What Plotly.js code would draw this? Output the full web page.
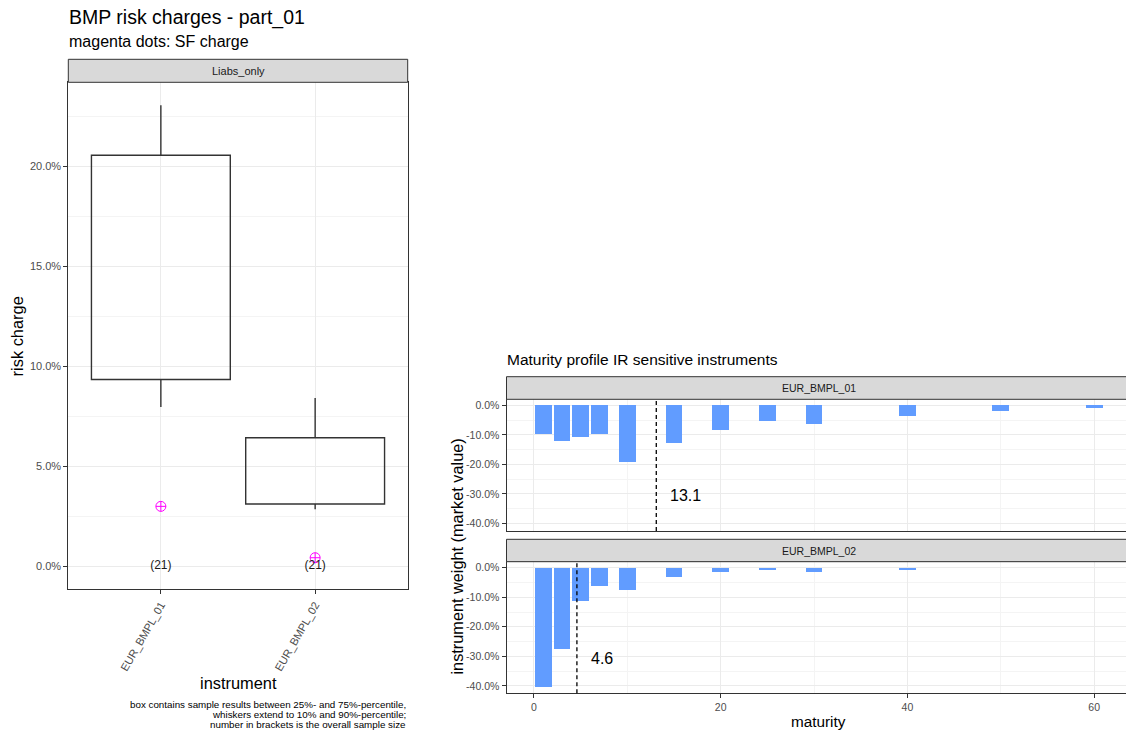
<!DOCTYPE html>
<html>
<head>
<meta charset="utf-8">
<script src="https://cdn.plot.ly/plotly-3.0.1.min.js"></script>
<style>
  html, body { margin: 0; padding: 0; overflow: hidden; background: #ffffff; }
  #chart { width: 1132px; height: 731px; }
</style>
</head>
<body>
<div id="chart"></div>
<script>
// ---------------- data ----------------
// left panel: risk charges per instrument (fractions)
var instruments = ['EUR_BMPL_01', 'EUR_BMPL_02'];
var q10 = [0.0797, 0.0285];   // lower whisker (10%-percentile)
var q25 = [0.0935, 0.0312];   // box bottom (25%-percentile)
var q75 = [0.2057, 0.0643];   // box top (75%-percentile)
var q90 = [0.2307, 0.0842];   // upper whisker (90%-percentile)
var sfCharge = [0.0300, 0.0043];
var sampleSize = [21, 21];
var riskTickVals = [0, 0.05, 0.10, 0.15, 0.20];
var riskTickText = ['0.0%', '5.0%', '10.0%', '15.0%', '20.0%'];

// right panels: maturity profile
var maturities = [1, 3, 5, 7, 10, 15, 20, 25, 30, 40, 50, 60];
var weightsBMPL01 = [-0.098, -0.121, -0.107, -0.098, -0.193, -0.128, -0.082, -0.054, -0.064, -0.036, -0.018, -0.008];
var weightsBMPL02 = [-0.405, -0.274, -0.112, -0.062, -0.075, -0.031, -0.014, -0.007, -0.014, -0.007, 0, 0];
var meanMaturity = [13.1, 4.6];
var weightTickVals = [0, -0.1, -0.2, -0.3, -0.4];
var weightTickText = ['0.0%', '-10.0%', '-20.0%', '-30.0%', '-40.0%'];
var maturityTickVals = [0, 20, 40, 60];
var maturityTickText = ['0', '20', '40', '60'];
var panelNames = ['EUR_BMPL_01', 'EUR_BMPL_02'];

// ---------------- layout helpers ----------------
var W = 1132, H = 731;
function fx(px) { return px / W; }
function fy(py) { return 1 - py / H; }

var FONT = 'Liberation Sans, Arial, sans-serif';
var BORDER = '#333333';
var GRID = '#EBEBEB';
var MINOR = '#F4F4F4';
var TICKCOL = '#4D4D4D';

// ---------------- traces ----------------
var traces = [];

// whiskers
var wx = [], wy = [];
for (var i = 0; i < instruments.length; i++) {
  wx.push(instruments[i], instruments[i], null, instruments[i], instruments[i], null);
  wy.push(q75[i], q90[i], null, q25[i], q10[i], null);
}
traces.push({
  type: 'scatter', mode: 'lines', x: wx, y: wy, xaxis: 'x', yaxis: 'y',
  line: { color: BORDER, width: 1.4 }, hoverinfo: 'skip', showlegend: false
});

// boxes (25%..75%)
traces.push({
  type: 'bar', x: instruments,
  base: q25,
  y: q75.map(function (v, k) { return v - q25[k]; }),
  width: 0.9, xaxis: 'x', yaxis: 'y',
  marker: { color: 'rgba(255,255,255,0)', line: { color: BORDER, width: 1.4 } },
  showlegend: false, hoverinfo: 'skip'
});

// SF charge dots
traces.push({
  type: 'scatter', mode: 'markers', x: instruments, y: sfCharge, xaxis: 'x', yaxis: 'y',
  marker: { symbol: 'circle-cross-open', size: 10, color: '#FF00FF', line: { width: 1, color: '#FF00FF' } },
  showlegend: false
});

// sample size labels
traces.push({
  type: 'scatter', mode: 'text', x: instruments, y: instruments.map(function () { return 0; }),
  text: sampleSize.map(function (n) { return '(' + n + ')'; }),
  textposition: 'middle center', textfont: { family: FONT, size: 12, color: '#1a1a1a' },
  xaxis: 'x', yaxis: 'y', showlegend: false, hoverinfo: 'skip'
});

// maturity bars
traces.push({
  type: 'bar', x: maturities, y: weightsBMPL01, width: 1.8, xaxis: 'x2', yaxis: 'y2',
  marker: { color: '#619CFF' }, showlegend: false
});
traces.push({
  type: 'bar', x: maturities, y: weightsBMPL02, width: 1.8, xaxis: 'x3', yaxis: 'y3',
  marker: { color: '#619CFF' }, showlegend: false
});

// ---------------- axes ----------------
function baseAxis(extra) {
  var a = {
    showline: true, mirror: true, linecolor: BORDER, linewidth: 1,
    ticks: 'outside', ticklen: 4, tickcolor: BORDER, tickwidth: 1,
    showgrid: true, gridcolor: GRID, gridwidth: 1, zeroline: false,
    tickfont: { family: FONT, size: 10.5, color: TICKCOL },
    automargin: false, fixedrange: true
  };
  for (var k in extra) a[k] = extra[k];
  return a;
}

var rightX0 = 506.5, rightX1 = 1131;
var layout = {
  width: W, height: H,
  margin: { l: 0, r: 0, t: 0, b: 0 },
  paper_bgcolor: '#ffffff', plot_bgcolor: '#ffffff',
  font: { family: FONT, color: '#000000' },
  bargap: 0, barmode: 'overlay',
  xaxis: baseAxis({
    domain: [fx(68.3), fx(407.7)], anchor: 'y',
    type: 'category', categoryorder: 'array', categoryarray: instruments,
    range: [-0.6, 1.6], tickangle: -60,
    tickfont: { family: FONT, size: 11, color: TICKCOL }
  }),
  yaxis: baseAxis({
    domain: [fy(589.3), fy(82.3)], anchor: 'x',
    range: [-0.0115, 0.2422],
    tickmode: 'array', tickvals: riskTickVals, ticktext: riskTickText,
    tickfont: { family: FONT, size: 11, color: TICKCOL },
    minor: { tickmode: 'linear', tick0: 0.025, dtick: 0.05, showgrid: true, gridcolor: MINOR, ticks: '' }
  }),
  xaxis2: baseAxis({
    domain: [fx(rightX0), fx(rightX1)], anchor: 'y2',
    range: [-2.94, 63.94], ticks: '', showticklabels: false,
    tickmode: 'array', tickvals: maturityTickVals, ticktext: maturityTickText,
    minor: { tickmode: 'linear', tick0: 10, dtick: 20, showgrid: true, gridcolor: MINOR, ticks: '' }
  }),
  yaxis2: baseAxis({
    domain: [fy(531), fy(399.3)], anchor: 'x2',
    range: [-0.4253, 0.0203],
    tickmode: 'array', tickvals: weightTickVals, ticktext: weightTickText,
    minor: { tickmode: 'linear', tick0: -0.05, dtick: 0.1, showgrid: true, gridcolor: MINOR, ticks: '' }
  }),
  xaxis3: baseAxis({
    domain: [fx(rightX0), fx(rightX1)], anchor: 'y3',
    range: [-2.94, 63.94],
    tickmode: 'array', tickvals: maturityTickVals, ticktext: maturityTickText,
    minor: { tickmode: 'linear', tick0: 10, dtick: 20, showgrid: true, gridcolor: MINOR, ticks: '' }
  }),
  yaxis3: baseAxis({
    domain: [fy(693.3), fy(561.7)], anchor: 'x3',
    range: [-0.4253, 0.0203],
    tickmode: 'array', tickvals: weightTickVals, ticktext: weightTickText,
    minor: { tickmode: 'linear', tick0: -0.05, dtick: 0.1, showgrid: true, gridcolor: MINOR, ticks: '' }
  }),
  shapes: [],
  annotations: []
};

// strips
function strip(x0, x1, y0, y1, label, size) {
  layout.shapes.push({
    type: 'rect', xref: 'paper', yref: 'paper',
    x0: fx(x0), x1: fx(x1), y0: fy(y1), y1: fy(y0),
    fillcolor: '#D9D9D9', line: { color: BORDER, width: 1 }, layer: 'above'
  });
  layout.annotations.push({
    xref: 'paper', yref: 'paper', x: fx((x0 + Math.min(x1, W)) / 2 + (x1 > W ? 0 : 0)), y: fy((y0 + y1) / 2),
    xanchor: 'center', yanchor: 'middle', showarrow: false, text: label,
    font: { family: FONT, size: size, color: '#1A1A1A' }
  });
}
strip(68.3, 407.7, 59.3, 82.3, 'Liabs_only', 11);
layout.annotations.pop();
layout.annotations.push({
  xref: 'paper', yref: 'paper', x: fx(238), y: fy(71), xanchor: 'center', yanchor: 'middle',
  showarrow: false, text: 'Liabs_only', font: { family: FONT, size: 11, color: '#1A1A1A' }
});
strip(rightX0, rightX1, 376.7, 399.3, panelNames[0], 10.5);
strip(rightX0, rightX1, 539.3, 561.7, panelNames[1], 10.5);

// dashed mean-maturity lines and labels
var axPairs = [['x2', 'y2'], ['x3', 'y3']];
for (var p = 0; p < meanMaturity.length; p++) {
  layout.shapes.push({
    type: 'line', xref: axPairs[p][0], yref: axPairs[p][1] + ' domain',
    x0: meanMaturity[p], x1: meanMaturity[p], y0: 0, y1: 1,
    line: { color: '#000000', width: 1.3, dash: '4px,3px' }
  });
  layout.annotations.push({
    xref: axPairs[p][0], yref: axPairs[p][1], x: meanMaturity[p], y: -0.306,
    xanchor: 'left', yanchor: 'middle', xshift: 12, showarrow: false,
    text: meanMaturity[p].toFixed(1),
    font: { family: FONT, size: 16, color: '#000000' }
  });
}

// titles and axis titles
function txt(x, y, text, size, xanchor, extra) {
  var a = {
    xref: 'paper', yref: 'paper', x: fx(x), y: fy(y), xanchor: xanchor || 'left', yanchor: 'middle',
    showarrow: false, text: text, font: { family: FONT, size: size, color: '#000000' }
  };
  if (extra) for (var k in extra) a[k] = extra[k];
  layout.annotations.push(a);
}
txt(67, 18, 'BMP risk charges - part_01', 19.5);
txt(67, 42, 'magenta dots: SF charge', 16);
txt(505, 359, 'Maturity profile IR sensitive instruments', 15.5);
txt(16.7, 336.7, 'risk charge', 16.4, 'center', { textangle: -90 });
txt(238, 683, 'instrument', 16.4, 'center');
txt(456.5, 557, 'instrument weight (market value)', 16.3, 'center', { textangle: -90 });
txt(818.5, 721, 'maturity', 15.3, 'center');
txt(407.7, 704, 'box contains sample results between 25%- and 75%-percentile,', 9.8, 'right');
txt(407.7, 714.3, 'whiskers extend to 10% and 90%-percentile;', 9.8, 'right');
txt(407.7, 724.6, 'number in brackets is the overall sample size', 9.8, 'right');

Plotly.newPlot('chart', traces, layout, { staticPlot: true, displayModeBar: false });
</script>
</body>
</html>
